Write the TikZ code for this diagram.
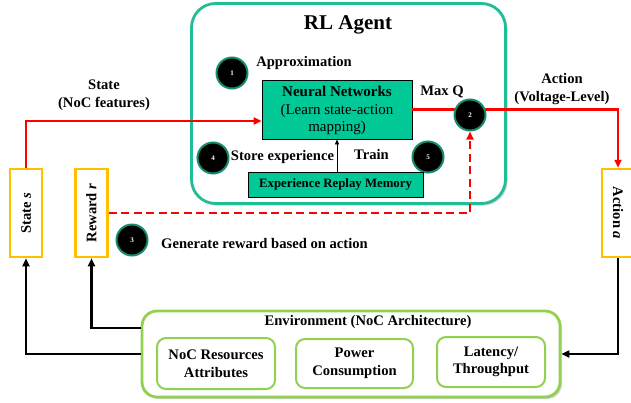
\documentclass[tikz,border=0pt]{standalone}
\usepackage{fontspec}
\setmainfont{Liberation Serif}
\usetikzlibrary{arrows.meta,shadows,calc}
\definecolor{rlteal}{RGB}{30,190,150}
\definecolor{nnfill}{RGB}{0,200,150}
\definecolor{circb}{RGB}{20,140,110}
\definecolor{orng}{RGB}{255,192,0}
\definecolor{envg}{RGB}{146,208,80}
\definecolor{redc}{RGB}{255,0,0}
\pgfdeclarelayer{fg}
\pgfsetlayers{main,fg}
\tikzset{
  txt/.style={font=\bfseries\fontsize{14.6}{17.5}\selectfont, inner sep=0pt},
  num/.style={circle, fill=black, draw=circb, line width=2pt, minimum size=31pt, inner sep=0pt,
    text=white, font=\bfseries\fontsize{7}{8}\selectfont},
  nnbox/.style={draw=black, fill=nnfill, line width=0.8pt, inner sep=0pt},
  sidebox/.style={draw=orng, fill=white, line width=2.5pt, minimum width=32pt, minimum height=88pt, inner sep=0pt},
  envin/.style={draw=envg, rounded corners=9pt, line width=2pt, inner sep=0pt, align=center,
    font=\bfseries\fontsize{14.6}{17.5}\selectfont},
  redline/.style={draw=redc, line width=2.4pt, -{Triangle[length=8pt,width=7pt]}},
  reddash/.style={draw=redc, line width=2.4pt, dash pattern=on 8pt off 4.5pt, -{Triangle[length=8pt,width=7pt]}},
  blk/.style={draw=black, line width=2.2pt, -{Triangle[length=8pt,width=7pt]}},
  shad/.style={drop shadow={opacity=0.35, shadow xshift=2pt, shadow yshift=-2pt}},
}
\begin{document}
\begin{tikzpicture}[x=1pt,y=-1pt]
\useasboundingbox (0,0) rectangle (631,402);
% RL Agent box
\node[draw=rlteal, fill=white, line width=2.8pt, rounded corners=24pt, minimum width=314pt, minimum height=200pt, inner sep=0pt, shad] (rl) at (348.5,103.5) {};
\node[font=\bfseries\fontsize{21}{25}\selectfont, inner sep=0pt] (title) at (348,25) {RL Agent};
\node[num] (c1) at (232,73) {1};
\node[txt] (approx) at (304,63) {Approximation};
\node[nnbox, minimum width=150pt, minimum height=59pt] (nn) at (337,109.5) {};
\node[align=center, inner sep=0pt, font=\fontsize{15}{17.5}\selectfont] (nntxt) at (337,110.5) {\textbf{Neural Networks}\\(Learn state-action\\mapping)};
\node[txt] (maxq) at (442,92) {Max Q};
\node[num] (c4) at (213,158) {4};
\node[txt] (store) at (282.5,157) {Store experience};
\node[txt] (train) at (371.5,155) {Train};
\node[num] (c5) at (428,157) {5};
\node[nnbox, minimum width=175pt, minimum height=25pt, font=\bfseries\fontsize{12.8}{15}\selectfont] (erm) at (335.5,184.5) {Experience Replay Memory};
\draw[draw=black, line width=0.8pt, -{Triangle[length=5pt,width=4pt]}] (erm.north -| 337,0) -- (nn.south -| 337,0);
% side boxes
\node[sidebox] (state) at (26,213) {};
\node[rotate=90, font=\bfseries\fontsize{14.6}{17}\selectfont, inner sep=0pt] (statetxt) at (state) {State \textit{s}};
\node[sidebox] (rew) at (91.5,213) {};
\node[rotate=90, font=\bfseries\fontsize{14.6}{17}\selectfont, inner sep=0pt] (rewtxt) at (rew) {Reward \textit{r}};
\node[sidebox] (act) at (618,213) {};
\node[rotate=-90, font=\bfseries\fontsize{14.6}{17}\selectfont, inner sep=0pt] (acttxt) at (act) {Action \textit{a}};
% labels
\node[txt, align=center] (statelbl) at (104,95) {State\\(NoC features)};
\node[txt, align=center] (actlbl) at (562,89) {Action\\(Voltage-Level)};
\node[num] (c3) at (132,240) {3};
\node[txt] (gen) at (264.5,243) {Generate reward based on action};
% environment
\node[draw=envg, fill=white, line width=2.8pt, rounded corners=15pt, minimum width=418pt, minimum height=86pt, inner sep=0pt, shad] (env) at (351,354) {};
\node[txt] (envlbl) at (368,322) {Environment (NoC Architecture)};
\node[envin, minimum width=118pt, minimum height=51pt] (res) at (216,363.5) {NoC Resources\\Attributes};
\node[envin, minimum width=117pt, minimum height=49pt] (pow) at (354.5,363.5) {Power\\Consumption};
\node[envin, minimum width=108pt, minimum height=50pt] (lat) at (491,362) {Latency/\\Throughput};
% circle 2 on top
\begin{pgfonlayer}{fg}
\node[num] (c2) at (470,115) {2};
\end{pgfonlayer}
% connectors
\draw[redline] (state.north) |- ($(nn.west)+(0,11.5)$);
\draw[redline] (nn.east) -| (act.north);
\draw[reddash] (rew.east) -| (c2.south);
\draw[blk] (env.west) -| (state.south);
\draw[blk] ($(env.west)+(0,-26)$) -| (rew.south);
\draw[blk] (act.south) |- (env.east);
\end{tikzpicture}
\end{document}
